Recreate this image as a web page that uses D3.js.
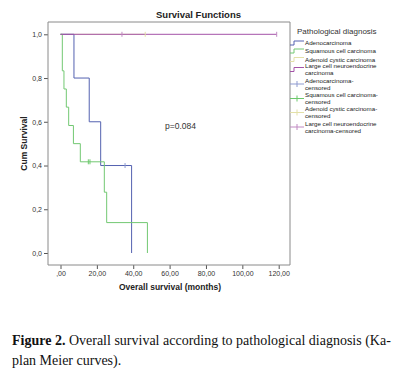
<!DOCTYPE html>
<html><head><meta charset="utf-8">
<script src="https://cdn.jsdelivr.net/npm/d3@7"></script>
<style>body{margin:0;background:#fff}svg{display:block}</style>
</head><body>
<script>
// ---- data ----
const xTicks = [0, 20, 40, 60, 80, 100, 120];
const yTicks = [0, 0.2, 0.4, 0.6, 0.8, 1.0];
const groups = ["Adenocarcinoma", "Squamous cell carcinoma", "Adenoid cystic carcinoma", "Large cell neuroendocrine carcinoma"];
const adenoTimes = [0, 7.4, 15.8, 22.1, 39.1];
const adenoSurv  = [1, 0.8, 0.6, 0.4, 0];
const adenoCensor = [35.5];
const squamTimes = [0, 1.0, 1.9, 3.2, 4.5, 7.1, 10.9, 24.1, 25.4, 47.8];
const squamSurv  = [1, 0.833, 0.75, 0.667, 0.583, 0.5, 0.417, 0.278, 0.139, 0];
const squamCensor = [15.3, 16.2];
const adenoidTimes = [0, 46.6];
const adenoidSurv  = [1, 1];
const adenoidCensor = [46.6];
const largeTimes = [0, 118.9];
const largeSurv  = [1, 1];
const largeCensor = [33.8, 118.9];
const pText = "p=0.084";

const colors = {line: ["#5462b0", "#72c872", "#e3e0a8", "#a453a8"],
                cens: ["#8f9bd0", "#6cc86c", "#e3e0a8", "#c08ac2"]};

const W = 406, H = 380;
const svg = d3.select("body").append("svg").attr("width", W).attr("height", H)
  .style("font-family", "'Liberation Sans', Arial, sans-serif");

const frame = {l: 48, t: 22, r: 290, b: 265};
const x = d3.scaleLinear().domain([0, 120]).range([60.5, 278.7]);
const y = d3.scaleLinear().domain([0, 1]).range([253, 34.3]);

svg.append("text").attr("x", 198.5).attr("y", 18).attr("text-anchor", "middle")
  .attr("font-weight", "bold").attr("font-size", 9.5).attr("fill", "#222").text("Survival Functions");

// axes
const yAxis = svg.append("g").attr("transform", `translate(${frame.l},0)`)
  .call(d3.axisLeft(y).tickValues(yTicks).tickSize(4).tickPadding(2)
    .tickFormat(d => d3.format(".1f")(d).replace(".", ",")));
const xAxis = svg.append("g").attr("transform", `translate(0,${frame.b})`)
  .call(d3.axisBottom(x).tickValues(xTicks).tickSize(4).tickPadding(2)
    .tickFormat(d => d === 0 ? ",00" : d3.format(".2f")(d).replace(".", ",")));
[yAxis, xAxis].forEach(g => {
  g.select(".domain").remove();
  g.selectAll("line").attr("stroke", "#555");
  g.selectAll("text").attr("font-size", 7).attr("fill", "#333").style("font-family", "'Liberation Sans', Arial, sans-serif");
});

// frame
svg.append("path").attr("d", `M${frame.l},${frame.t}H${frame.r}V${frame.b}H${frame.l}Z`)
  .attr("fill", "none").attr("stroke", "#8a8a8a").attr("stroke-width", 1);

svg.append("text").attr("transform", "translate(27,143.5) rotate(-90)").attr("text-anchor", "middle")
  .attr("font-weight", "bold").attr("font-size", 8.5).attr("fill", "#222").text("Cum Survival");
svg.append("text").attr("x", 170).attr("y", 290).attr("text-anchor", "middle")
  .attr("font-weight", "bold").attr("font-size", 8.5).attr("fill", "#222").text("Overall survival (months)");

// curves
const series = [
  {times: adenoidTimes, surv: adenoidSurv, cens: adenoidCensor, i: 2},
  {times: adenoTimes, surv: adenoSurv, cens: adenoCensor, i: 0},
  {times: squamTimes, surv: squamSurv, cens: squamCensor, i: 1},
  {times: largeTimes, surv: largeSurv, cens: largeCensor, i: 3}
];
const line = d3.line().x(d => x(d[0])).y(d => y(d[1])).curve(d3.curveStepAfter);
series.forEach(s => {
  svg.append("path").attr("d", line(s.times.map((t, k) => [t, s.surv[k]])))
    .attr("fill", "none").attr("stroke", colors.line[s.i]).attr("stroke-width", 1);
});
function survAt(s, t) { let v = 1; s.times.forEach((tt, k) => { if (tt <= t) v = s.surv[k]; }); return v; }
series.forEach(s => {
  s.cens.forEach(t => {
    const cx = x(t), cy = y(survAt(s, t));
    svg.append("line").attr("x1", cx).attr("x2", cx).attr("y1", cy - 2.5).attr("y2", cy + 2.5)
      .attr("stroke", colors.cens[s.i]).attr("stroke-width", 1);
  });
});

svg.append("text").attr("x", 165).attr("y", 129).attr("font-size", 8.5).attr("fill", "#333").text(pText);

// legend
const leg = svg.append("g").attr("fill", "#222");
leg.append("text").attr("x", 297).attr("y", 34).attr("font-size", 8).attr("fill", "#333").text("Pathological diagnosis");
const legItems = [
  {lines: ["Adenocarcinoma"], y: 43, c: colors.line[0], cens: false},
  {lines: ["Squamous cell carcinoma"], y: 51, c: colors.line[1], cens: false},
  {lines: ["Adenoid cystic carcinoma"], y: 59.5, c: colors.line[2], cens: false},
  {lines: ["Large cell neuroendocrine", "carcinoma"], y: 69.5, c: colors.line[3], cens: false},
  {lines: ["Adenocarcinoma-", "censored"], y: 84, c: colors.cens[0], cens: true},
  {lines: ["Squamous cell carcinoma-", "censored"], y: 98.5, c: colors.cens[1], cens: true},
  {lines: ["Adenoid cystic carcinoma-", "censored"], y: 112.5, c: colors.cens[2], cens: true},
  {lines: ["Large cell neuroendocrine", "carcinoma-censored"], y: 127, c: colors.cens[3], cens: true}
];
legItems.forEach(it => {
  if (it.cens) {
    leg.append("line").attr("x1", 290).attr("x2", 304).attr("y1", it.y).attr("y2", it.y).attr("stroke", it.c);
    leg.append("line").attr("x1", 297).attr("x2", 297).attr("y1", it.y - 3).attr("y2", it.y + 3).attr("stroke", it.c);
  } else {
    leg.append("path").attr("d", `M290,${it.y + 2}H294V${it.y - 2}H304`).attr("fill", "none").attr("stroke", it.c);
  }
  const n = it.lines.length;
  it.lines.forEach((l, k) => {
    leg.append("text").attr("x", 305).attr("y", it.y + 2.2 + (k - (n - 1) / 2) * 6.6)
      .attr("font-size", 6.2).text(l);
  });
});

// caption
const cap = svg.append("g").style("font-family", "'Liberation Serif', 'Times New Roman', serif").attr("font-size", 14).attr("fill", "#111");
const t1 = cap.append("text").attr("x", 12).attr("y", 345);
t1.append("tspan").attr("font-weight", "bold").text("Figure 2.");
t1.append("tspan").text(" Overall survival according to pathological diagnosis (Ka-");
cap.append("text").attr("x", 12).attr("y", 365).text("plan Meier curves).");
</script>
</body></html>
